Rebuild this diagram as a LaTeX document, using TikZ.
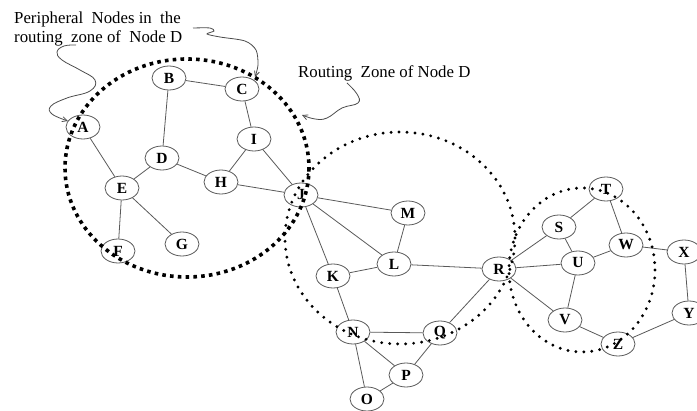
\documentclass[tikz,border=0pt]{standalone}
\usepackage{fontspec}
\setmainfont{Liberation Serif}
\usetikzlibrary{shapes.geometric,arrows.meta}
\begin{document}
\begin{tikzpicture}[x=1pt,y=-1pt,
  vtx/.style={ellipse,draw=black!65,line width=0.8pt,minimum width=34pt,minimum height=24pt,inner sep=0pt,
              font=\fontsize{15.5}{15.5}\selectfont\bfseries},
  link/.style={draw=black!65,line width=0.8pt},
  zonebig/.style={line width=3.6pt,dash pattern=on 3.6pt off 4.2pt},
  zone/.style={line width=3.2pt,line cap=round,dash pattern=on 0pt off 8pt},
  callout/.style={draw=black!70,line width=0.8pt,-{Straight Barb[length=5pt,width=5pt]}},
  note/.style={anchor=base west,inner sep=0pt,font=\fontsize{16.8}{19}\selectfont}]
\useasboundingbox (0,0) rectangle (697,411);

% vertices
\node[vtx] (A) at (83,127) {A};
\node[vtx] (B) at (169,78) {B};
\node[vtx] (C) at (242,89) {C};
\node[vtx] (I) at (254,139) {I};
\node[vtx] (D) at (162,158) {D};
\node[vtx] (E) at (122,188) {E};
\node[vtx] (H) at (221,182) {H};
\node[vtx] (J) at (301,195) {J};
\node[vtx] (F) at (118,251) {F};
\node[vtx] (G) at (182,244) {G};
\node[vtx] (M) at (408,213) {M};
\node[vtx] (L) at (394,264) {L};
\node[vtx] (K) at (333,276) {K};
\node[vtx] (R) at (499,269) {R};
\node[vtx] (N) at (353,332) {N};
\node[vtx] (Q) at (440,333) {Q};
\node[vtx] (P) at (406,375) {P};
\node[vtx] (O) at (367,399) {O};
\node[vtx] (T) at (606,189) {T};
\node[vtx] (S) at (559,227) {S};
\node[vtx] (W) at (626,245) {W};
\node[vtx] (X) at (684,252) {X};
\node[vtx] (U) at (578,263) {U};
\node[vtx] (V) at (565,320) {V};
\node[vtx] (Z) at (618,344) {Z};
\node[vtx] (Y) at (689,313) {Y};

% links
\foreach \a/\b in {A/E,B/C,B/D,C/I,I/H,I/J,D/E,D/H,H/J,E/F,E/G,
                   J/M,J/L,J/K,M/L,K/L,L/R,K/N,N/Q,N/P,N/O,P/O,P/Q,Q/R,
                   R/S,R/U,R/V,S/T,S/U,T/W,U/W,U/V,V/Z,W/X,X/Y,Y/Z}
  \draw[link] (\a) -- (\b);

% routing zones
\draw[zonebig] (187,168) ellipse [x radius=122, y radius=109];
\draw[zone] (400,238) ellipse [x radius=115, y radius=106];
\draw[zone] (582,270) ellipse [x radius=73, y radius=82];

% annotations
\node[note] (t1) at (14,24) {Peripheral\ \ Nodes in\ \ the};
\node[note] (t2) at (14,43) {routing\ \ zone of\ \ Node D};
\node[note] (t3) at (298,78) {Routing\ \ Zone of Node D};

\coordinate (a1) at (76,45);
\coordinate (a2) at (68,121);
\draw[callout] plot[smooth,tension=0.7] coordinates
  {(a1) (64,46) (57,52) (62,60) (80,70) (95,80) (90,91) (67,98) (51,106) (52,114) (a2)};

\coordinate (c1) at (193,28);
\coordinate (c2) at (255,77);
\draw[callout] plot[smooth,tension=0.5] coordinates
  {(c1) (210,28) (214,31) (207,34) (220,37) (245,41) (256,50) (258,65) (c2)};

\coordinate (r1) at (347,83);
\coordinate (r2) at (302,115);
\draw[callout] plot[smooth,tension=0.7] coordinates
  {(r1) (357,94) (358,103) (342,108) (327,118) (315,119) (r2)};
\end{tikzpicture}
\end{document}
